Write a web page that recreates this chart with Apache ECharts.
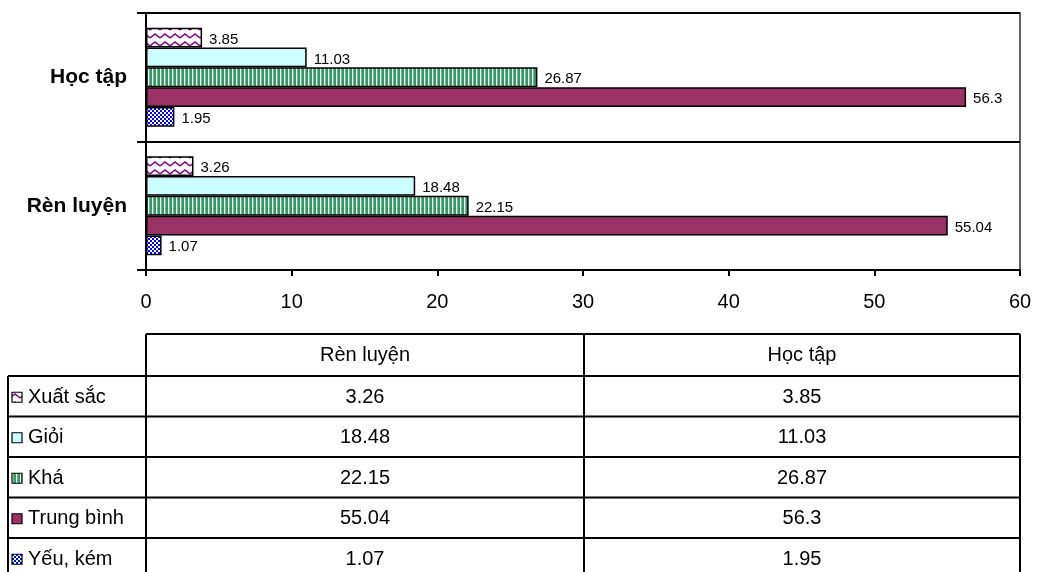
<!DOCTYPE html>
<html>
<head>
<meta charset="utf-8">
<script src="https://cdn.jsdelivr.net/npm/echarts@6/dist/echarts.min.js"></script>
<style>
  html, body { margin: 0; padding: 0; background: #fff; }
  #chart { width: 1037px; height: 572px; }
</style>
</head>
<body>
<div id="chart"></div>
<script>
// Groups on the category axis (bottom to top)
const groups = ['Rèn luyện', 'Học tập'];
// Rating levels, in table order
const levels = ['Xuất sắc', 'Giỏi', 'Khá', 'Trung bình', 'Yếu, kém'];
// Percentages per level
const renLuyen = [3.26, 18.48, 22.15, 55.04, 1.07];
const hocTap = [3.85, 11.03, 26.87, 56.3, 1.95];
// Value axis range
const xMin = 0, xMax = 60, xStep = 10;

const FONT = '"Liberation Sans", Arial, sans-serif';

// ---- fill patterns ----
function makeCanvas(w, h, draw) {
  const c = document.createElement('canvas');
  c.width = w; c.height = h;
  draw(c.getContext('2d'), w, h);
  return c;
}
// purple zigzag waves on white
const zigzag = makeCanvas(10, 8, (g, w, h) => {
  g.fillStyle = '#fff'; g.fillRect(0, 0, w, h);
  g.strokeStyle = '#800080';
  g.lineWidth = 1.5;
  g.beginPath();
  g.moveTo(0, 6); g.lineTo(5, 2); g.lineTo(10, 6);
  g.stroke();
});
// white vertical stripes on green
const stripes = makeCanvas(4, 4, (g, w, h) => {
  g.fillStyle = '#339966'; g.fillRect(0, 0, w, h);
  g.fillStyle = '#fff'; g.fillRect(0, 0, 1.3, h);
});
// blue and white check
const checker = makeCanvas(4, 4, (g, w, h) => {
  g.fillStyle = '#0000ff'; g.fillRect(0, 0, w, h);
  g.fillStyle = '#fff';
  g.fillRect(0, 0, 2, 2);
  g.fillRect(2, 2, 2, 2);
});
const fills = [
  { image: zigzag, repeat: 'repeat' },
  '#ccffff',
  { image: stripes, repeat: 'repeat' },
  '#993366',
  { image: checker, repeat: 'repeat' }
];

// ---- bar series (first series drawn at the top of each group) ----
const series = levels.map((name, i) => ({
  name,
  type: 'bar',
  data: [renLuyen[i], hocTap[i]],
  barGap: '0%',
  barCategoryGap: '23%',
  itemStyle: { color: fills[i], borderColor: '#000', borderWidth: 1.5 },
  label: {
    show: true, position: 'right', distance: 7, offset: [0, 2],
    color: '#000', fontSize: 15, fontFamily: FONT
  }
}));

// ---- data table under the chart ----
const tbl = {
  left: 8, c1: 146, c2: 584, right: 1020,
  headTop: 334, headBottom: 376, rowH: 40.5
};
const graphics = [];
function hline(x1, x2, y) {
  graphics.push({ type: 'line', silent: true,
    shape: { x1, y1: y, x2, y2: y }, style: { stroke: '#000', lineWidth: 2 } });
}
function vline(x, y1, y2) {
  graphics.push({ type: 'line', silent: true,
    shape: { x1: x, y1, x2: x, y2 }, style: { stroke: '#000', lineWidth: 2 } });
}
function label(text, x, y, align) {
  graphics.push({ type: 'text', silent: true, x, y,
    style: { text, fill: '#000', fontSize: 20, fontFamily: FONT,
      align, verticalAlign: 'middle', textAlign: align, textVerticalAlign: 'middle' } });
}
const tableBottom = tbl.headBottom + levels.length * tbl.rowH;
// header row
hline(tbl.c1, tbl.right, tbl.headTop);
label(groups[0], (tbl.c1 + tbl.c2) / 2, (tbl.headTop + tbl.headBottom) / 2, 'center');
label(groups[1], (tbl.c2 + tbl.right) / 2, (tbl.headTop + tbl.headBottom) / 2, 'center');
vline(tbl.c1, tbl.headTop, tableBottom);
vline(tbl.c2, tbl.headTop, tableBottom);
vline(tbl.right, tbl.headTop, tableBottom);
vline(tbl.left, tbl.headBottom, tableBottom);
for (let i = 0; i <= levels.length; i++) {
  hline(tbl.left, tbl.right, tbl.headBottom + i * tbl.rowH);
}
levels.forEach((name, i) => {
  const cy = tbl.headBottom + i * tbl.rowH + tbl.rowH / 2 + 1;
  graphics.push({ type: 'rect', silent: true,
    shape: { x: 12, y: cy - 5, width: 10, height: 10 },
    style: { fill: fills[i], stroke: '#000', lineWidth: 1.2 } });
  label(name, 28, cy, 'left');
  label(String(renLuyen[i]), (tbl.c1 + tbl.c2) / 2, cy, 'center');
  label(String(hocTap[i]), (tbl.c2 + tbl.right) / 2, cy, 'center');
});

const chart = echarts.init(document.getElementById('chart'), null, { renderer: 'canvas' });
chart.setOption({
  animation: false,
  backgroundColor: '#fff',
  grid: {
    left: 146, right: 17, top: 13, bottom: 302,
    show: true, borderColor: '#333', borderWidth: 1.5, backgroundColor: 'transparent'
  },
  xAxis: {
    type: 'value', min: xMin, max: xMax, interval: xStep,
    axisLine: { show: true, lineStyle: { color: '#000', width: 2 } },
    axisTick: { show: true, length: 6, lineStyle: { color: '#000', width: 2 } },
    axisLabel: { color: '#000', fontSize: 20, fontFamily: FONT, margin: 22 },
    splitLine: { show: false }
  },
  yAxis: {
    type: 'category', data: groups,
    axisLine: { show: true, lineStyle: { color: '#000', width: 2 } },
    axisTick: { show: true, length: 9, lineStyle: { color: '#000', width: 2 } },
    axisLabel: { color: '#000', fontSize: 21, fontWeight: 'bold', fontFamily: FONT, margin: 19 },
    splitLine: { show: true, lineStyle: { color: '#000', width: 2 } }
  },
  series,
  graphic: graphics
});
</script>
</body>
</html>
